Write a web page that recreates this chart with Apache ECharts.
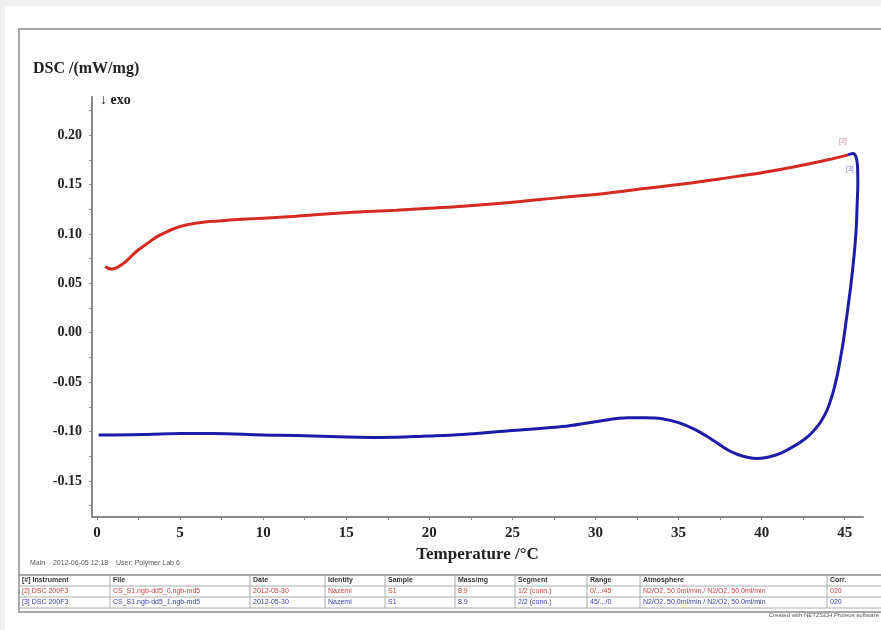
<!DOCTYPE html>
<html>
<head>
<meta charset="utf-8">
<script src="https://cdn.jsdelivr.net/npm/echarts@6/dist/echarts.min.js"></script>
<style>
  html, body { margin: 0; padding: 0; background: #eef0f2; }
  #chart { width: 881px; height: 630px; }
</style>
</head>
<body>
<div id="chart"></div>
<script>
// DSC curves, heating [2] and cooling [3]
const heatTemp = [0.5, 0.7, 0.9, 1.2, 1.5, 1.8, 2.1, 2.5, 3, 3.5, 4, 4.5, 5, 5.5, 6, 6.5, 7, 7.5, 8, 9, 10, 12, 15, 18, 20, 22, 25, 28, 30, 32, 35, 38, 40, 42, 44, 45.2];
const heatDsc = [0.067, 0.065, 0.0645, 0.066, 0.069, 0.073, 0.078, 0.084, 0.090, 0.096, 0.1005, 0.1045, 0.1075, 0.1095, 0.111, 0.112, 0.1128, 0.1134, 0.114, 0.115, 0.116, 0.118, 0.1215, 0.124, 0.126, 0.128, 0.132, 0.137, 0.140, 0.144, 0.150, 0.157, 0.162, 0.168, 0.175, 0.180];

const coolTemp = [45.2, 45.5, 45.68, 45.77, 45.79, 45.75, 45.69, 45.6, 45.48, 45.36, 45.24, 45.12, 44.94, 44.76, 44.58, 44.34, 44.1, 43.86, 43.55, 43.25, 42.83, 42.35, 41.75, 41.2, 40.7, 40.2, 39.7, 39.2, 38.6, 38, 37, 36, 35, 34, 33, 32, 30, 28, 25, 22, 20, 17, 15, 12, 10, 7, 5, 3, 1, 0.1];
const coolDsc = [0.180, 0.1815, 0.178, 0.169, 0.152, 0.131, 0.1055, 0.085, 0.065, 0.0467, 0.0314, 0.0162, -0.006, -0.0243, -0.0406, -0.0578, -0.071, -0.0812, -0.0903, -0.0969, -0.1045, -0.1106, -0.1167, -0.1215, -0.1245, -0.1265, -0.1272, -0.1262, -0.1235, -0.119, -0.108, -0.098, -0.091, -0.087, -0.086, -0.086, -0.090, -0.095, -0.099, -0.103, -0.1045, -0.106, -0.1055, -0.104, -0.1035, -0.102, -0.102, -0.103, -0.1035, -0.1035];

const xLabels = [0, 5, 10, 15, 20, 25, 30, 35, 40, 45];
const xTicks = [0, 2.5, 5, 7.5, 10, 12.5, 15, 17.5, 20, 22.5, 25, 27.5, 30, 32.5, 35, 37.5, 40, 42.5, 45];
const yLabels = [-0.15, -0.10, -0.05, 0, 0.05, 0.10, 0.15, 0.20];
const yTicks = [-0.175, -0.15, -0.125, -0.10, -0.075, -0.05, -0.025, 0, 0.025, 0.05, 0.075, 0.10, 0.125, 0.15, 0.175, 0.20, 0.225];

const tableHead = ['[#] Instrument', 'File', 'Date', 'Identity', 'Sample', 'Mass/mg', 'Segment', 'Range', 'Atmosphere', 'Corr.'];
const tableRows = [
  ['[2] DSC 200F3', 'CS_S1.ngb-dd5_0.ngb-md5', '2012-05-30', 'Nazemi', 'S1', '8.9', '1/2 (conn.)', '0/.../45', 'N2/O2, 50.0ml/min / N2/O2, 50.0ml/min', '020'],
  ['[3] DSC 200F3', 'CS_S1.ngb-dd5_1.ngb-md5', '2012-05-30', 'Nazemi', 'S1', '8.9', '2/2 (conn.)', '45/.../0', 'N2/O2, 50.0ml/min / N2/O2, 50.0ml/min', '020']
];

const colors = {
  red: '#d42a22',
  blue: '#1c1ca8',
  axis: '#8a8a8a',
  text: '#222',
  rowRed: '#d04040',
  rowBlue: '#3a3ab0'
};
const serif = '"Liberation Serif", "DejaVu Serif", serif';
const sans = '"Liberation Sans", Arial, sans-serif';

// table drawn with graphic elements
const colX = [19, 110, 250, 325, 385, 455, 515, 587, 640, 827, 885];
const rowY = [575, 586, 597, 608];
const rowColors = [colors.rowRed, colors.rowBlue];
const tableGraphics = [];
rowY.forEach(function (y, i) {
  tableGraphics.push({ type: 'line', shape: { x1: 19, y1: y, x2: 885, y2: y }, style: { stroke: i === 0 ? '#888' : '#aaa', lineWidth: i === 0 ? 1.5 : 1 } });
});
colX.forEach(function (x) {
  tableGraphics.push({ type: 'line', shape: { x1: x, y1: rowY[0], x2: x, y2: rowY[3] }, style: { stroke: '#aaa', lineWidth: 1 } });
});
tableHead.forEach(function (t, c) {
  tableGraphics.push({ type: 'text', x: colX[c] + 3, y: rowY[0] + 2, style: { text: t, fill: '#333', font: 'bold 7px ' + sans } });
});
tableRows.forEach(function (row, r) {
  row.forEach(function (t, c) {
    tableGraphics.push({ type: 'text', x: colX[c] + 3, y: rowY[r + 1] + 2, style: { text: t, fill: rowColors[r], font: '7px ' + sans } });
  });
});

const chart = echarts.init(document.getElementById('chart'));
chart.setOption({
  backgroundColor: '#eef0f2',
  animation: false,
  title: {
    text: 'DSC /(mW/mg)',
    left: 28, top: 56,
    textStyle: { fontFamily: serif, fontWeight: 'bold', fontSize: 16, color: colors.text }
  },
  grid: { left: 92, right: 18, top: 97, bottom: 113 },
  xAxis: {
    type: 'value',
    min: -0.3, max: 46.1,
    name: 'Temperature /°C',
    nameLocation: 'middle',
    nameGap: 28,
    nameTextStyle: { fontFamily: serif, fontWeight: 'bold', fontSize: 17, color: colors.text },
    axisLine: { onZero: false, lineStyle: { color: colors.axis, width: 2 } },
    axisTick: { show: true, customValues: xTicks, length: 3, lineStyle: { color: colors.axis } },
    axisLabel: { customValues: xLabels, margin: 9, fontFamily: serif, fontWeight: 'bold', fontSize: 15, color: colors.text },
    splitLine: { show: false }
  },
  yAxis: {
    type: 'value',
    min: -0.1865, max: 0.2386,
    axisLine: { show: true, onZero: false, lineStyle: { color: colors.axis, width: 2 } },
    axisTick: { show: true, customValues: yTicks, length: 3, lineStyle: { color: colors.axis } },
    axisLabel: {
      customValues: yLabels, margin: 10,
      formatter: function (v) { return v.toFixed(2); },
      fontFamily: serif, fontWeight: 'bold', fontSize: 14, color: colors.text
    },
    splitLine: { show: false }
  },
  graphic: [
    { type: 'rect', z: -10, shape: { x: 5, y: 6, width: 876, height: 624 }, style: { fill: '#fff' } },
    { type: 'rect', z: -9, shape: { x: 19, y: 29, width: 870, height: 583 }, style: { fill: 'none', stroke: '#a8a8a8', lineWidth: 2 } },
    { type: 'text', x: 100, y: 93, style: { text: '↓ exo', fill: colors.text, font: 'bold 14px ' + serif } },
    { type: 'text', x: 839, y: 138, style: { text: '[2]', fill: '#d88080', font: '7px ' + sans } },
    { type: 'text', x: 846, y: 166, style: { text: '[3]', fill: '#8080c8', font: '7px ' + sans } },
    { type: 'text', x: 30, y: 560, style: { text: 'Main    2012-06-05 12:18    User: Polymer Lab 6', fill: '#555', font: '7px ' + sans } },
    { type: 'text', x: 879, y: 612, style: { text: 'Created with NETZSCH Proteus software', fill: '#555', font: '6px ' + sans, align: 'right' } }
  ].concat(tableGraphics),
  series: [
    {
      name: '[2]', type: 'line', showSymbol: false, smooth: 0.4,
      data: heatTemp.map(function (t, i) { return [t, heatDsc[i]]; }),
      lineStyle: { color: colors.red, width: 3 }
    },
    {
      name: '[3]', type: 'line', showSymbol: false, smooth: 0.4,
      data: coolTemp.map(function (t, i) { return [t, coolDsc[i]]; }),
      lineStyle: { color: colors.blue, width: 3 }
    }
  ]
});
</script>
</body>
</html>
